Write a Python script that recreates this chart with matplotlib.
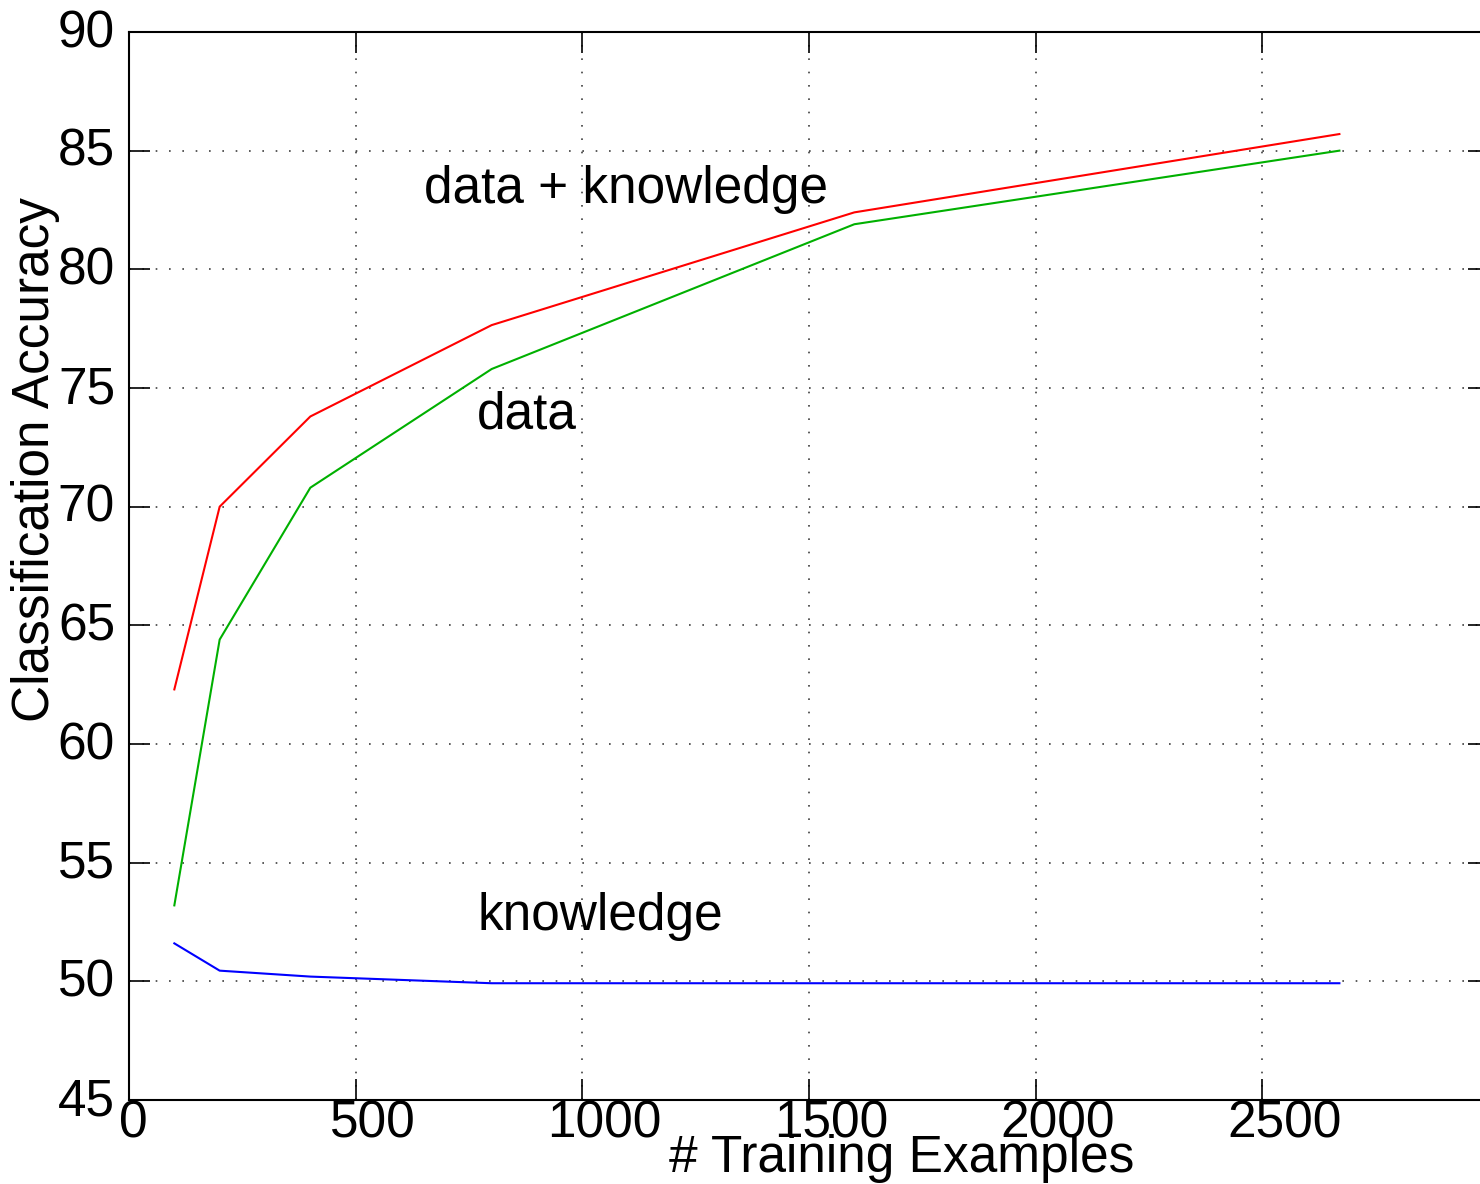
"""Classification accuracy vs. number of training examples (three learners)."""

import matplotlib

matplotlib.use("Agg")

import matplotlib.pyplot as plt
import matplotlib.transforms as mtransforms

plt.rcParams["font.family"] = ["Liberation Sans", "DejaVu Sans"]

# Data
train_sizes = [100, 200, 400, 800, 1600, 2670]
acc_data_knowledge = [62.3, 70.0, 73.8, 77.65, 82.4, 85.7]
acc_data = [53.2, 64.4, 70.8, 75.8, 81.9, 85.0]
acc_knowledge = [51.6, 50.45, 50.2, 49.92, 49.92, 49.92]

x_ticks = [0, 500, 1000, 1500, 2000, 2500]
y_ticks = [45, 50, 55, 60, 65, 70, 75, 80, 85, 90]

W, H = 1480, 1184
FS = 37


def main() -> None:
    fig = plt.figure(figsize=(W / 100, H / 100), dpi=100)
    # axes run past the right edge of the figure, as in the reference
    ax = fig.add_axes([129 / W, (H - 1100) / H, 1360 / W, 1068 / H])

    ax.plot(train_sizes, acc_data_knowledge, color="#ff0000", lw=1.5)
    ax.plot(train_sizes, acc_data, color="#00b000", lw=1.5)
    ax.plot(train_sizes, acc_knowledge, color="#0000ff", lw=1.5)

    ax.set_xlim(0, 3000)
    ax.set_ylim(45, 90)
    ax.set_xticks(x_ticks)
    ax.set_yticks(y_ticks)
    ax.grid(True, color="black", linestyle=(0, (1, 7)), linewidth=1.2, alpha=0.75)

    ax.tick_params(direction="in", length=15, width=1.2, labelsize=FS,
                   top=True, right=True)
    ax.tick_params(axis="x", pad=0)
    ax.tick_params(axis="y", pad=10)
    for spine in ax.spines.values():
        spine.set_linewidth(1.5)

    # the reference's tick labels sit a little right of / above their ticks
    for label in ax.get_xticklabels():
        shift = {1: 4, 3: 17, 4: 22}.get(len(label.get_text()), 20)
        label.set_transform(label.get_transform() + mtransforms.ScaledTranslation(
            shift / 100, 0, fig.dpi_scale_trans))
    for label in ax.get_yticklabels():
        label.set_transform(label.get_transform() + mtransforms.ScaledTranslation(
            0, 4 / 100, fig.dpi_scale_trans))

    ax.text(651, 82.79, "data + knowledge", fontsize=FS, va="baseline")
    ax.text(768, 73.31, "data", fontsize=FS, va="baseline")
    ax.text(768, 52.16, "knowledge", fontsize=FS, va="baseline")

    fig.text(902 / W, (H - 1172) / H, "# Training Examples", fontsize=FS,
             ha="center", va="baseline")
    fig.text(36 / W, (H - 459) / H, "Classification Accuracy", fontsize=FS,
             ha="center", va="center", rotation=90)

    fig.savefig("out.png", dpi=100)
    plt.close(fig)


if __name__ == "__main__":
    main()
